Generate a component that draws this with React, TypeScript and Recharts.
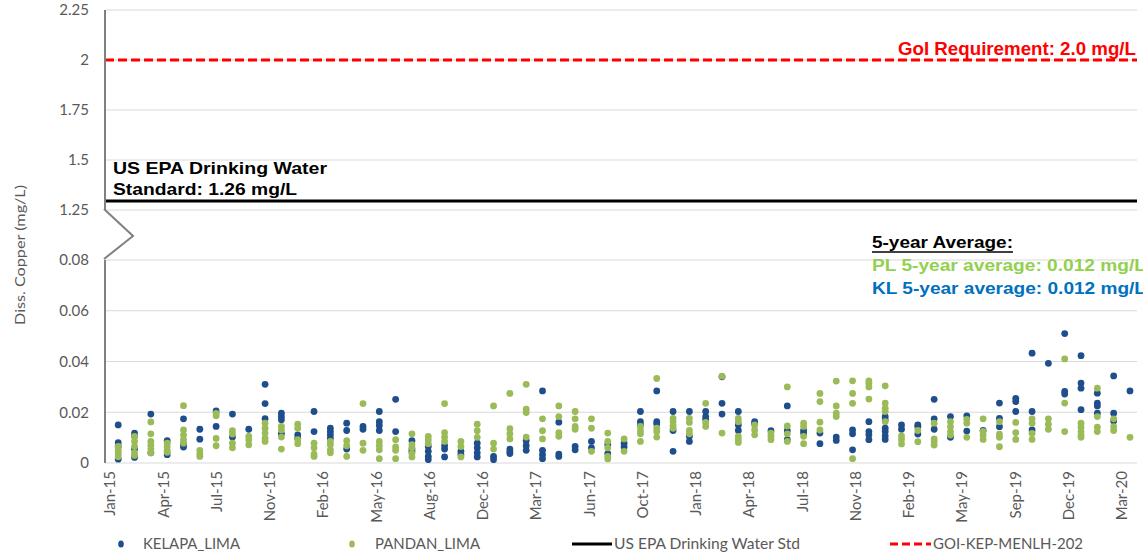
import React from 'react';
import { ScatterChart, Scatter, XAxis, YAxis, CartesianGrid, ReferenceLine } from 'recharts';

// Monthly sampling (Jan-15 ... Mar-20), several samples per month
const MONTHS = [
  'Jan-15','Feb-15','Mar-15','Apr-15','May-15','Jun-15','Jul-15','Aug-15','Sep-15','Oct-15','Nov-15','Dec-15',
  'Jan-16','Feb-16','Mar-16','Apr-16','May-16','Jun-16','Jul-16','Aug-16','Sep-16','Oct-16','Nov-16','Dec-16',
  'Jan-17','Feb-17','Mar-17','Apr-17','May-17','Jun-17','Jul-17','Aug-17','Sep-17','Oct-17','Nov-17','Dec-17',
  'Jan-18','Feb-18','Mar-18','Apr-18','May-18','Jun-18','Jul-18','Aug-18','Sep-18','Oct-18','Nov-18','Dec-18',
  'Jan-19','Feb-19','Mar-19','Apr-19','May-19','Jun-19','Jul-19','Aug-19','Sep-19','Oct-19','Nov-19','Dec-19',
  'Jan-20','Feb-20','Mar-20',
];

const KELAPA_LIMA: number[][] = [
  [0.015, 0.008, 0.0065, 0.0015], [0.0118, 0.0105, 0.0055, 0.0022], [0.0193, 0.004], [0.0088, 0.0033],
  [0.0174, 0.0072, 0.0063], [0.0133, 0.0094], [0.0205, 0.0144], [0.0193, 0.0102],
  [0.0133], [0.031, 0.0234, 0.0175], [0.0196, 0.0183, 0.017, 0.0115], [0.0111, 0.0098],
  [0.0203, 0.0124], [0.0137, 0.0124, 0.0111, 0.0098], [0.0157, 0.0128, 0.0055], [0.0144, 0.0133],
  [0.0203, 0.0163, 0.0148, 0.0128], [0.0251, 0.0124], [0.0088, 0.0055, 0.0045], [0.0065, 0.0046, 0.0026, 0.0013],
  [0.0068, 0.0055, 0.0024], [0.0046, 0.0033], [0.0078, 0.006, 0.004, 0.0024], [0.0026, 0.0013],
  [0.0055, 0.0045, 0.0037], [0.0088, 0.0068, 0.005], [0.0284, 0.005, 0.0033, 0.0017], [0.0161, 0.0035, 0.0026],
  [0.0065, 0.0052], [0.0085, 0.006], [0.0072, 0.0037], [0.0078, 0.0063],
  [0.0203, 0.0163, 0.015], [0.0284, 0.0163, 0.0154], [0.0203, 0.0128, 0.0046], [0.0203, 0.0105, 0.0085],
  [0.0203, 0.0183, 0.0172], [0.034, 0.0235, 0.0193], [0.0203, 0.015, 0.0128], [0.0163, 0.0155],
  [0.0127], [0.0225, 0.0127, 0.0092], [0.0128, 0.0118], [0.0118, 0.0076],
  [0.0102, 0.0089], [0.013, 0.0115, 0.0052], [0.0163, 0.0124, 0.0111, 0.0092], [0.0183, 0.017, 0.0137, 0.0124, 0.0107, 0.0093],
  [0.015, 0.0133], [0.015, 0.0143, 0.0114], [0.0251, 0.0174, 0.0133], [0.0183, 0.0101],
  [0.0186, 0.0126], [0.0128], [0.0236, 0.0176, 0.0143], [0.0255, 0.0242, 0.0203],
  [0.0433, 0.0203, 0.013], [0.0393], [0.051, 0.0282, 0.0272], [0.0423, 0.0315, 0.0295, 0.021],
  [0.0275, 0.0236, 0.0225, 0.0196], [0.0343, 0.0196, 0.0166], [0.0284],
];

const PANDAN_LIMA: number[][] = [
  [0.0065, 0.0055, 0.0045, 0.0035, 0.0025], [0.0105, 0.0085, 0.0065, 0.004, 0.003], [0.0162, 0.0115, 0.0085, 0.007, 0.0055, 0.004], [0.0078, 0.0065, 0.005, 0.0042],
  [0.0226, 0.013, 0.011, 0.0092, 0.0078], [0.005, 0.0036, 0.0026], [0.0195, 0.0186, 0.0097, 0.0068], [0.0127, 0.0114, 0.0078, 0.006],
  [0.0105, 0.0092, 0.0072], [0.0157, 0.0137, 0.0118, 0.0098, 0.0085], [0.0144, 0.013, 0.0102, 0.0055], [0.0153, 0.0137, 0.0092, 0.0076],
  [0.0078, 0.006, 0.0035, 0.0026], [0.0085, 0.0072, 0.0052, 0.004], [0.0088, 0.0068, 0.0026], [0.0234, 0.0078, 0.005],
  [0.0085, 0.0068, 0.0052, 0.0017], [0.0092, 0.0063, 0.005, 0.0017], [0.0115, 0.0072, 0.006, 0.0037, 0.0024], [0.0105, 0.0092, 0.0076],
  [0.0234, 0.012, 0.0102, 0.0085], [0.0085, 0.0065, 0.0024], [0.0153, 0.0127, 0.0101], [0.0225, 0.0078, 0.0055],
  [0.0274, 0.0135, 0.0115, 0.0095], [0.031, 0.0212, 0.0199, 0.0102], [0.0174, 0.0127, 0.0095], [0.0225, 0.0183, 0.012, 0.0105],
  [0.0203, 0.0174, 0.0144, 0.0133], [0.0174, 0.0137, 0.0046], [0.0118, 0.0085, 0.006, 0.0026, 0.0016], [0.0095, 0.0046],
  [0.0144, 0.0128, 0.0115, 0.0085], [0.0333, 0.0137, 0.0124, 0.0102], [0.0176, 0.0163, 0.0148, 0.0137], [0.0176, 0.016, 0.0128, 0.0115],
  [0.0235, 0.016, 0.0144], [0.0342, 0.0118], [0.0176, 0.0163, 0.0105, 0.0092, 0.0081], [0.015, 0.013, 0.0111],
  [0.0118, 0.0105, 0.0092], [0.03, 0.0146, 0.0115, 0.0085], [0.0157, 0.0144, 0.0105, 0.0076], [0.0274, 0.0242, 0.0161, 0.013],
  [0.0323, 0.0225, 0.0196, 0.0183], [0.0324, 0.0274, 0.0235, 0.0017], [0.0324, 0.0314, 0.03, 0.0252], [0.0304, 0.0236, 0.0216, 0.0203, 0.0163],
  [0.0107, 0.0093, 0.0075], [0.0128, 0.0084], [0.0157, 0.0095, 0.0084, 0.0071], [0.0163, 0.0143, 0.0124, 0.011],
  [0.0172, 0.0157, 0.0101], [0.0174, 0.0125, 0.011, 0.0093], [0.0163, 0.0114, 0.0101, 0.0064], [0.016, 0.012, 0.0093],
  [0.0174, 0.0157, 0.0117, 0.0093], [0.0174, 0.0153, 0.0133], [0.041, 0.0236, 0.0124], [0.0157, 0.0141, 0.0124, 0.011, 0.0101],
  [0.0295, 0.0183, 0.0141, 0.0124], [0.0174, 0.0143, 0.0128], [0.0101],
];

const X_TICK_LABELS = [
  'Jan-15','Apr-15','Jul-15','Nov-15','Feb-16','May-16','Aug-16','Dec-16','Mar-17','Jun-17',
  'Oct-17','Jan-18','Apr-18','Jul-18','Nov-18','Feb-19','May-19','Sep-19','Dec-19','Mar-20',
];

const LOW_TICKS = [0, 0.02, 0.04, 0.06, 0.08];
const HIGH_TICKS = [1.25, 1.5, 1.75, 2, 2.25];

const GOI_REQUIREMENT = 2.0;
const US_EPA_LINE = 1.295;

const SERIES_NAMES = ['KELAPA_LIMA', 'PANDAN_LIMA', 'US EPA Drinking Water Std', 'GOI-KEP-MENLH-202'];

const BLUE = '#1F4E8C';
const GREEN = '#9BBB59';
const AXIS_TEXT = '#595959';
const GRID = '#D9D9D9';

const X_DOMAIN: [number, number] = [-0.31, 62.93];
const LAST_MONTH = MONTHS.length - 1;
const TICK_POS = X_TICK_LABELS.map((_, k) => (k * LAST_MONTH) / (X_TICK_LABELS.length - 1));

const toPoints = (series: number[][]) =>
  series.flatMap((vals, i) => vals.map((v) => ({ x: i + 0.5, y: v, month: MONTHS[i] })));

const kelapaPoints = toPoints(KELAPA_LIMA);
const pandanPoints = toPoints(PANDAN_LIMA);

const dot = (color: string) => (props: any) => (
  <circle cx={props.cx} cy={props.cy} r={3.4} fill={color} />
);

const XTick = (props: any) => {
  const { x, y, payload } = props;
  const idx = TICK_POS.findIndex((t) => Math.abs(t - payload.value) < 1e-6);
  return (
    <text
      x={x}
      y={y}
      transform={`rotate(-90, ${x}, ${y})`}
      textAnchor="end"
      dy="0.36em"
      fill={AXIS_TEXT}
      fontSize={15}
      fontFamily="Lato, 'Open Sans', sans-serif"
    >
      {idx >= 0 ? X_TICK_LABELS[idx] : ''}
    </text>
  );
};

const tickStyle = { fill: AXIS_TEXT, fontSize: 15, fontFamily: "Lato, 'Open Sans', sans-serif" };
const boldFont = "'Liberation Sans', Arial, sans-serif";

export default function App() {
  return (
    <div style={{ position: 'absolute', left: 0, top: 0, width: 1143, height: 555, background: '#fff' }}>
      {/* upper panel (broken axis, 1.25 - 2.25) */}
      <div style={{ position: 'absolute', left: 0, top: 0 }}>
        <ScatterChart width={1143} height={220} margin={{ top: 10, right: 6, bottom: 10, left: 0 }}>
          <CartesianGrid horizontal vertical={false} stroke={GRID} />
          <XAxis type="number" dataKey="x" domain={X_DOMAIN} hide allowDataOverflow />
          <YAxis
            type="number"
            dataKey="y"
            domain={[1.25, 2.25]}
            ticks={HIGH_TICKS}
            interval={0}
            width={105}
            tickLine={false}
            tickSize={6}
            tickMargin={10}
            axisLine={{ stroke: '#808080', strokeWidth: 2 }}
            tick={tickStyle}
            tickFormatter={(v: number) => String(v)}
            allowDataOverflow
          />
          <ReferenceLine y={GOI_REQUIREMENT} stroke="#FF0000" strokeWidth={3} strokeDasharray="9 4" ifOverflow="visible" />
          <ReferenceLine y={US_EPA_LINE} stroke="#000000" strokeWidth={3} ifOverflow="visible" />
        </ScatterChart>
      </div>

      {/* lower panel (0 - 0.08) */}
      <div style={{ position: 'absolute', left: 0, top: 250 }}>
        <ScatterChart width={1143} height={305} margin={{ top: 10, right: 6, bottom: 32, left: 0 }}>
          <CartesianGrid horizontal vertical={false} stroke={GRID} />
          <XAxis
            type="number"
            dataKey="x"
            domain={X_DOMAIN}
            ticks={TICK_POS}
            interval={0}
            height={60}
            axisLine={false}
            tickLine={false}
            tickSize={0}
            tickMargin={8}
            tick={<XTick />}
            allowDataOverflow
          />
          <YAxis
            type="number"
            dataKey="y"
            domain={[0, 0.08]}
            ticks={LOW_TICKS}
            interval={0}
            width={105}
            tickLine={false}
            tickSize={6}
            tickMargin={10}
            axisLine={{ stroke: '#808080', strokeWidth: 2 }}
            tick={tickStyle}
            tickFormatter={(v: number) => (v === 0 ? '0' : v.toFixed(2))}
            allowDataOverflow
          />
          <Scatter name={SERIES_NAMES[0]} data={kelapaPoints} fill={BLUE} shape={dot(BLUE)} isAnimationActive={false} />
          <Scatter name={SERIES_NAMES[1]} data={pandanPoints} fill={GREEN} shape={dot(GREEN)} isAnimationActive={false} />
        </ScatterChart>
      </div>

      {/* overlay: axis break, titles, annotations, legend */}
      <svg width={1143} height={555} style={{ position: 'absolute', left: 0, top: 0, pointerEvents: 'none' }}>
        <polyline points="104,209 133,236 104,259" fill="none" stroke="#808080" strokeWidth={2} />
        <text
          x={20}
          y={255}
          transform="rotate(-90, 20, 255)"
          textAnchor="middle"
          dy="0.35em"
          fill={AXIS_TEXT}
          fontSize={14}
          fontFamily="Lato, 'Open Sans', sans-serif"
          textLength={140}
          lengthAdjust="spacingAndGlyphs"
        >
          Diss. Copper (mg/L)
        </text>

        <text x={898} y={55} fill="#FF0000" fontSize={18} fontWeight="bold" fontFamily={boldFont} textLength={238} lengthAdjust="spacingAndGlyphs">
          GoI Requirement: 2.0 mg/L
        </text>
        <text x={113} y={174} fill="#000" fontSize={17} fontWeight="bold" fontFamily={boldFont} textLength={214} lengthAdjust="spacingAndGlyphs">
          US EPA Drinking Water
        </text>
        <text x={113} y={195} fill="#000" fontSize={17} fontWeight="bold" fontFamily={boldFont} textLength={184} lengthAdjust="spacingAndGlyphs">
          Standard: 1.26 mg/L
        </text>

        <text x={872} y={248} fill="#000" fontSize={16} fontWeight="bold" fontFamily={boldFont} textLength={141} lengthAdjust="spacingAndGlyphs">
          5-year Average:
        </text>
        <line x1={872} y1={252} x2={1013} y2={252} stroke="#000" strokeWidth={1.5} />
        <text x={872} y={271} fill="#92D050" fontSize={16} fontWeight="bold" fontFamily={boldFont} textLength={274} lengthAdjust="spacingAndGlyphs">
          PL 5-year average: 0.012 mg/L
        </text>
        <text x={872} y={294} fill="#0070C0" fontSize={16} fontWeight="bold" fontFamily={boldFont} textLength={274} lengthAdjust="spacingAndGlyphs">
          KL 5-year average: 0.012 mg/L
        </text>

        {/* legend */}
        <ellipse cx={121} cy={544} rx={2.8} ry={3.6} fill={BLUE} />
        <text x={143} y={549} fill={AXIS_TEXT} fontSize={15} fontFamily="Lato, 'Open Sans', sans-serif" textLength={97} lengthAdjust="spacingAndGlyphs">
          {SERIES_NAMES[0]}
        </text>
        <ellipse cx={352} cy={544} rx={2.8} ry={3.6} fill={GREEN} />
        <text x={375} y={549} fill={AXIS_TEXT} fontSize={15} fontFamily="Lato, 'Open Sans', sans-serif" textLength={105} lengthAdjust="spacingAndGlyphs">
          {SERIES_NAMES[1]}
        </text>
        <line x1={572} y1={544} x2={612} y2={544} stroke="#000" strokeWidth={3} />
        <text x={614} y={549} fill={AXIS_TEXT} fontSize={15} fontFamily="Lato, 'Open Sans', sans-serif" textLength={186} lengthAdjust="spacingAndGlyphs">
          {SERIES_NAMES[2]}
        </text>
        <line x1={890} y1={544} x2={931} y2={544} stroke="#FF0000" strokeWidth={3} strokeDasharray="8 4" />
        <text x={933} y={549} fill={AXIS_TEXT} fontSize={15} fontFamily="Lato, 'Open Sans', sans-serif" textLength={150} lengthAdjust="spacingAndGlyphs">
          {SERIES_NAMES[3]}
        </text>
      </svg>
    </div>
  );
}
